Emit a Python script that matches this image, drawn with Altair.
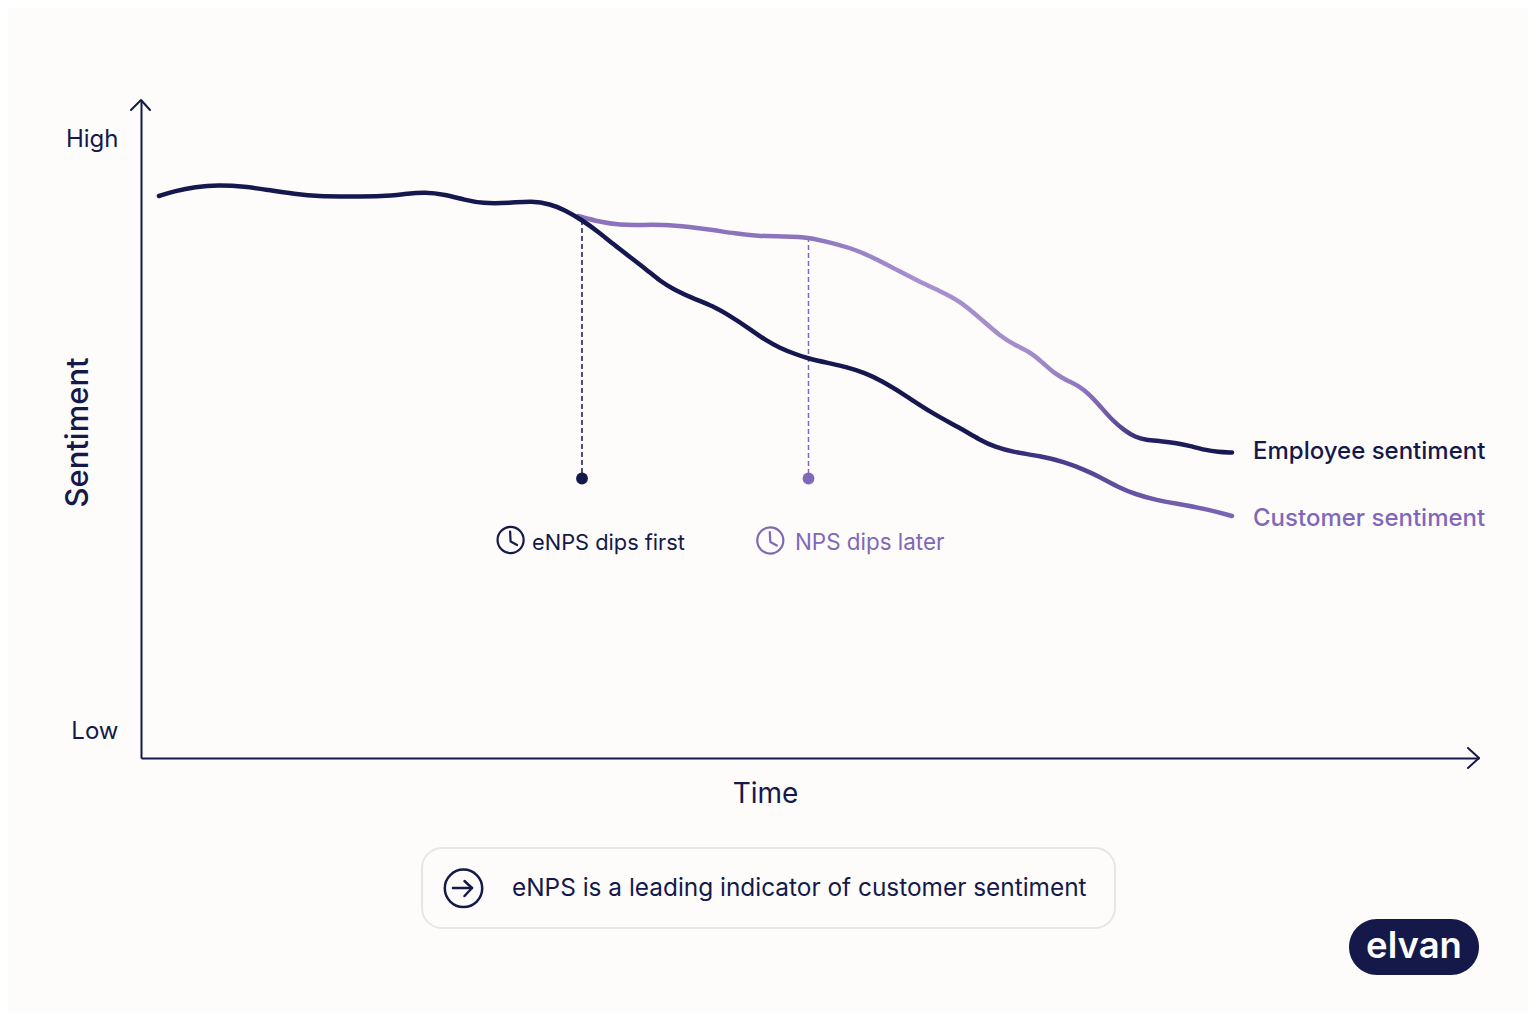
import altair as alt
import pandas as pd

NAVY = "#14194A"
PURPLE = "#8068B8"
BG = "#FDFCFA"
FONT = "Inter"

# Sentiment curves (time, sentiment)
lower_t = [18,34,54,77,104,127,154,177,209,242,264,284,304,324,341,369,391,409,424,441,459,472,489,506,519,532,551,572,589,606,624,639,654,667,687,706,724,739,764,789,819,839,854,872,899,924,944,959,979,994,1014,1044,1069,1091]
lower_s = [562,567,571,573,571.5,568,564,561.5,561.5,561.5,564,566,563.5,558,554.5,555,557,554,548,538,525,514,501,488,477,469,460,452,442,431,418,410,404,399.5,395,391,385,378,363,346,330,318,311,306,302,296,288,281,270,264,258,253,248,242]
upper_t = [437,459,479,499,522,549,572,594,616,644,667,691,716,737,756,779,799,819,840,859,874,889,901,914,927,938,949,959,971,984,994,1005,1019,1036,1049,1064,1077,1091]
upper_s = [542,536,533,533,533.5,531,528,524.5,522,521.5,521,515,508,498,488,476,467,457,439,422,413,406,396,384,377,372,363,352,338,327,321,318,317,315,312,308,306,305.5]

# Event markers
event_t = [441, 667.5]
event_top = [538, 521]
event_bottom = [279, 279]
event_dot = [279.5, 279.5]

# Labels
y_tick_values = [619, 27]
y_tick_labels = ["High", "Low"]

xscale = alt.Scale(domain=[0, 1338], nice=False, zero=False)
yscale = alt.Scale(domain=[0, 658], nice=False, zero=False)

x_axis = alt.Axis(
    labels=False, ticks=False, grid=False, domainColor=NAVY, domainWidth=2,
    titleFont=FONT, titleFontSize=28, titleFontWeight=400, titleColor=NAVY,
    titleX=624, titleY=36, titleBaseline="middle")
y_axis = alt.Axis(
    values=y_tick_values,
    labelExpr="datum.value > 300 ? '%s' : '%s'" % tuple(y_tick_labels),
    ticks=False, grid=False, domainColor=NAVY, domainWidth=2, labelPadding=23,
    labelFont=FONT, labelFontSize=24, labelColor=NAVY, labelFontWeight=400,
    titleFont=FONT, titleFontSize=31, titleFontWeight=500, titleColor=NAVY,
    titleX=-63, titleY=332, titleBaseline="middle")

X = lambda f="t": alt.X(f"{f}:Q", scale=xscale, axis=x_axis, title="Time")
Y = lambda f="s": alt.Y(f"{f}:Q", scale=yscale, axis=y_axis, title="Sentiment")


def stops(pairs):
    return alt.LinearGradient(
        gradient="linear", x1=0, x2=1, y1=0, y2=0,
        stops=[alt.GradientStop(color=c, offset=o) for o, c in pairs],
    )


def polyline(ts, ss, color, width=2.0):
    df = pd.DataFrame({"t": ts, "s": ss, "o": range(len(ts))})
    return alt.Chart(df).mark_line(
        color=color, strokeWidth=width, strokeCap="round", strokeJoin="round"
    ).encode(x=X(), y=Y(), order="o:Q")


def label(text, t, s, color=NAVY, size=24, weight=400, align="left"):
    df = pd.DataFrame({"t": [t], "s": [s], "label": [text]})
    return alt.Chart(df).mark_text(
        color=color, font=FONT, fontSize=size, fontWeight=weight, align=align, baseline="middle"
    ).encode(x=X(), y=Y(), text="label:N")


def ring(t, s, size, color, width=2.0):
    df = pd.DataFrame({"t": [t], "s": [s]})
    return alt.Chart(df).mark_point(
        shape="circle", filled=False, size=size, color=color, strokeWidth=width, opacity=1
    ).encode(x=X(), y=Y())


arrow_y = polyline([-10, 0, 9], [648, 658, 648], NAVY)
arrow_x = polyline([1327, 1338, 1327], [10, 0, -10], NAVY)

# Curves
upper_df = pd.DataFrame({"t": upper_t, "s": upper_s})
lower_df = pd.DataFrame({"t": lower_t, "s": lower_s})
upper_line = alt.Chart(upper_df).mark_line(
    strokeWidth=4.5, strokeCap="round", interpolate="basis",
    stroke=stops([(0, "#8A72BC"), (0.35, "#8C75BD"), (0.52, "#A78FD0"), (0.69, "#A48DCB"),
                  (0.77, "#9176BE"), (0.80, "#7A62AE"), (0.84, "#4A3E8A"), (0.87, "#221F63"), (1, "#15174F")]),
).encode(x=X(), y=Y())
lower_line = alt.Chart(lower_df).mark_line(
    strokeWidth=4.5, strokeCap="round", interpolate="basis",
    stroke=stops([(0, "#15174F"), (0.763, "#15174F"), (0.81, "#3A3180"), (0.877, "#5A4A9A"),
                  (0.93, "#6F5AAA"), (1, "#7C65B4")]),
).encode(x=X(), y=Y())


# Event rules and dots
def event(i, color):
    df = pd.DataFrame({"t": [event_t[i]], "s": [event_top[i]], "s2": [event_bottom[i]], "d": [event_dot[i]]})
    rule = alt.Chart(df).mark_rule(color=color, strokeWidth=1.5, strokeDash=[5, 3]).encode(
        x=X(), y=Y(), y2=alt.Y2("s2:Q"))
    dot = alt.Chart(df).mark_point(shape="circle", filled=True, size=140, color=color, opacity=1).encode(
        x=X(), y=Y("d"))
    return rule + dot


# Clock icons
def clock(t, s, color):
    return ring(t, s, 680, color, 2.2) + polyline([t - 0.5, t, t + 6.5], [s + 8.5, s - 1.5, s - 5], color, 2.2)


# Callout pill
pill = alt.Chart(pd.DataFrame({"t": [281], "t2": [974], "s": [-170], "s2": [-90]})).mark_rect(
    fill=BG, stroke="#E8E6E3", strokeWidth=2, cornerRadius=20
).encode(x=X(), x2=alt.X2("t2:Q"), y=Y(), y2=alt.Y2("s2:Q"))

# Badge
badge = alt.Chart(pd.DataFrame({"t": [1208], "t2": [1338], "s": [-217], "s2": [-161]})).mark_rect(
    fill=NAVY, cornerRadius=28
).encode(x=X(), x2=alt.X2("t2:Q"), y=Y(), y2=alt.Y2("s2:Q"))

chart = alt.layer(
    arrow_y, arrow_x,
    event(0, NAVY), event(1, PURPLE),
    upper_line, lower_line,
    label("Employee sentiment", 1112, 306, NAVY, 24, 500),
    label("Customer sentiment", 1112, 239, PURPLE, 24, 500),
    clock(369.6, 218, NAVY), label("eNPS dips first", 391, 215.5, NAVY, 21.8),
    clock(629.3, 217.5, PURPLE), label("NPS dips later", 654, 215.5, PURPLE, 22.4),
    pill,
    ring(322.5, -130.3, 1400, NAVY, 2.5),
    polyline([312, 331], [-130, -130], NAVY, 2.5),
    polyline([323.5, 331, 323.5], [-123, -130, -138], NAVY, 2.5),
    label("eNPS is a leading indicator of customer sentiment", 371, -131, NAVY, 24.4),
    badge,
    label("elvan", 1273, -189, "#FFFFFF", 36.5, 600, "center"),
).properties(
    width=1338, height=658,
    padding={"left": 133, "top": 92, "right": 49, "bottom": 256},
    autosize=alt.AutoSizeParams(type="none"),
    background=BG,
).configure_view(stroke=None)

chart.save("out.html", embed_options={"renderer": "svg", "actions": False})
